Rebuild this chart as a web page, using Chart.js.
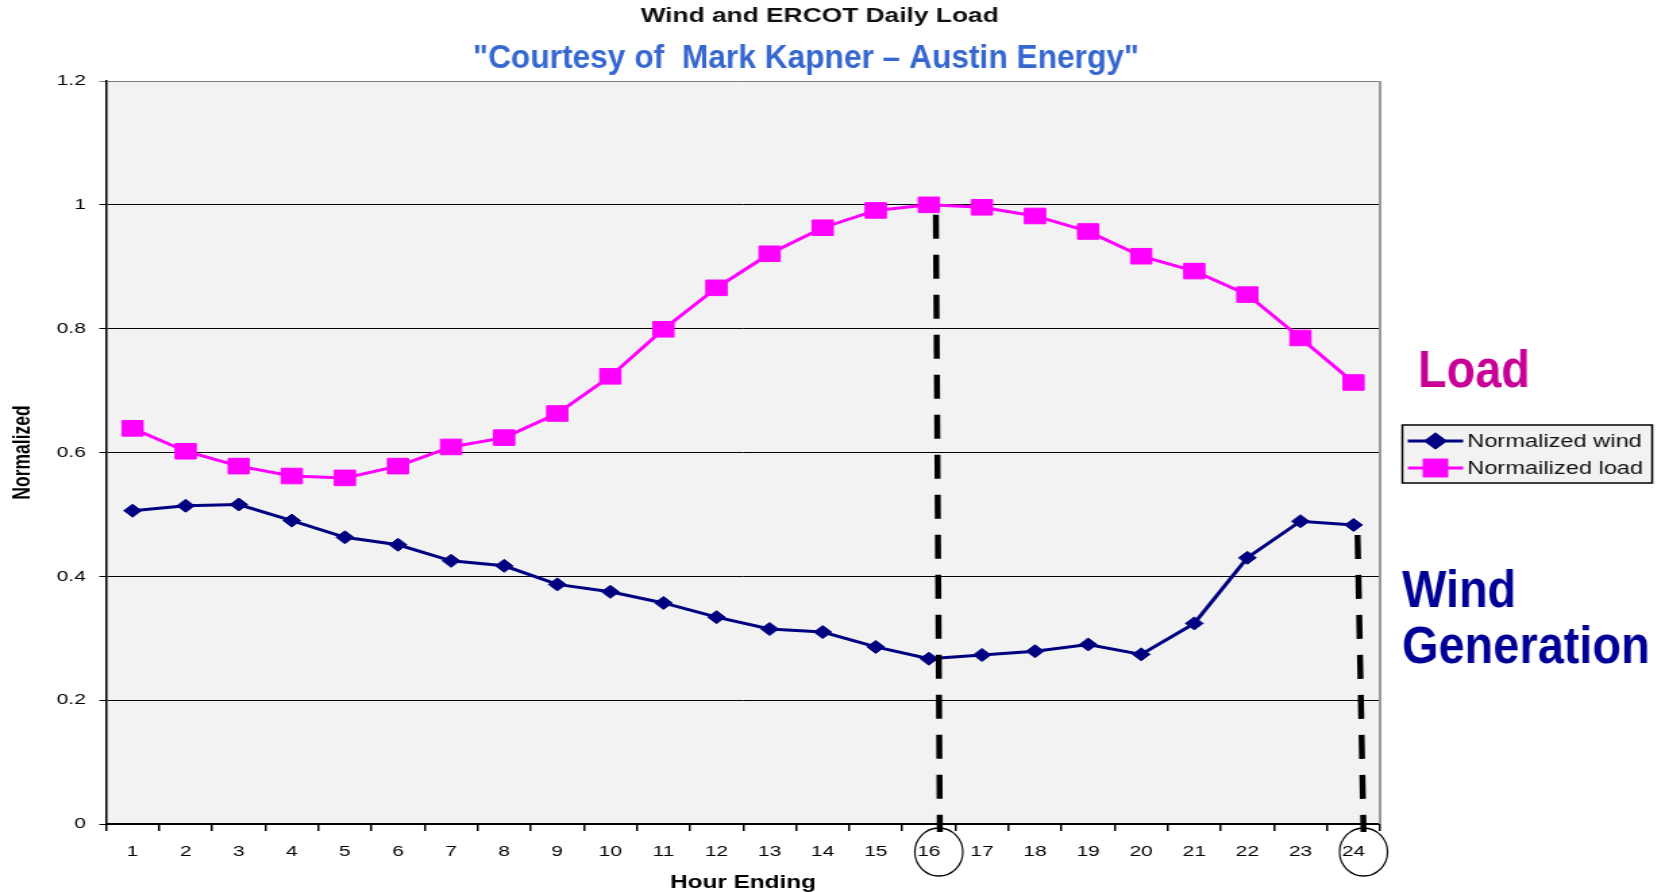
<!DOCTYPE html>
<html>
<head>
<meta charset="utf-8">
<script src="https://cdn.jsdelivr.net/npm/chart.js@4/dist/chart.umd.min.js"></script>
<style>
  html, body { margin: 0; padding: 0; background: #fff; overflow: hidden; }
  #stage { position: relative; width: 1665px; height: 892px; overflow: hidden; }
  /* the spreadsheet chart is drawn narrow and widened to the page */
  #c { position: absolute; left: 0; top: 0; transform: scaleX(1.350365); transform-origin: 0 0; }
</style>
</head>
<body>
<div id="stage"><canvas id="c" width="1233" height="892" style="width:1233px;height:892px"></canvas></div>
<script>
// Hour-ending categories
const hours = [1, 2, 3, 4, 5, 6, 7, 8, 9, 10, 11, 12, 13, 14, 15, 16, 17, 18, 19, 20, 21, 22, 23, 24];

// Normalized hourly wind output and ERCOT load
const windValues = [0.506, 0.514, 0.516, 0.490, 0.463, 0.451, 0.425, 0.417, 0.387, 0.375, 0.357, 0.334,
                    0.315, 0.310, 0.286, 0.267, 0.273, 0.279, 0.290, 0.274, 0.324, 0.430, 0.489, 0.483];
const loadValues = [0.639, 0.602, 0.578, 0.562, 0.559, 0.578, 0.609, 0.624, 0.663, 0.723, 0.799, 0.866,
                    0.921, 0.963, 0.991, 1.000, 0.996, 0.982, 0.957, 0.917, 0.893, 0.855, 0.785, 0.713];

// Value axis ticks
const yTickValues = [0, 0.2, 0.4, 0.6, 0.8, 1, 1.2];
const yTickLabels = ['0', '0.2', '0.4', '0.6', '0.8', '1', '1.2'];

const seriesNames = ['Normalized wind', 'Normailized load'];
const chartTitle = 'Wind and ERCOT Daily Load';
const creditLine = '"Courtesy of  Mark Kapner \u2013 Austin Energy"';
const xTitle = 'Hour Ending';
const yTitle = 'Normalized';
const loadTag = ['Load'];
const windTag = ['Wind', 'Generation'];
// hours called out: load peak hour and the late-evening wind hour
const markedHours = [16, 24];

const STRETCH = 1665 / 1233;
const FONT = '"Liberation Sans", Arial, Helvetica, sans-serif';

Chart.defaults.font.family = FONT;
Chart.defaults.color = '#000';

// plot-area fill and frame
const sheet = {
  id: 'sheet',
  beforeDraw(chart) {
    const { ctx, chartArea: a } = chart;
    ctx.save();
    ctx.fillStyle = '#f2f2f2';
    ctx.fillRect(a.left, a.top, a.right - a.left, a.bottom - a.top);
    ctx.restore();
  },
  afterDatasetsDraw(chart) {
    const { ctx, chartArea: a } = chart;
    ctx.save();
    ctx.strokeStyle = '#9a9a9a';
    ctx.lineWidth = 2;
    ctx.beginPath();
    ctx.moveTo(a.right, a.top);
    ctx.lineTo(a.right, a.bottom);
    ctx.stroke();
    ctx.restore();
  }
};

// chart heading and the boxed series key
const heading = {
  id: 'heading',
  afterDraw(chart) {
    const { ctx } = chart;
    ctx.save();
    ctx.fillStyle = '#111';
    ctx.font = 'bold 19.5px ' + FONT;
    ctx.textAlign = 'center';
    ctx.textBaseline = 'alphabetic';
    ctx.fillText(chartTitle, 607, 22);

    // key box
    const bx = 1038.5, by = 425, bw = 185, bh = 58;
    ctx.fillStyle = '#f2f2f2';
    ctx.fillRect(bx, by, bw, bh);
    ctx.strokeStyle = '#000';
    ctx.lineWidth = 1.5;
    ctx.strokeRect(bx, by, bw, bh);

    chart.data.datasets.forEach((ds, i) => {
      const y = by + 16 + i * 27;
      const x0 = bx + 4, x1 = bx + 45;
      ctx.strokeStyle = ds.borderColor;
      ctx.lineWidth = 3;
      ctx.beginPath();
      ctx.moveTo(x0, y);
      ctx.lineTo(x1, y);
      ctx.stroke();
      ctx.fillStyle = ds.borderColor;
      Chart.helpers.drawPoint(ctx, {
        pointStyle: ds.pointStyle, radius: ds.pointRadius, borderWidth: 1, rotation: 0
      }, (x0 + x1) / 2, y);
      ctx.fill();
      ctx.stroke();
      ctx.fillStyle = '#111';
      ctx.font = '17.5px ' + FONT;
      ctx.textAlign = 'left';
      ctx.textBaseline = 'middle';
      ctx.fillText(ds.label, bx + 48, y + 1);
    });
    ctx.restore();
  }
};

// slide call-outs: credit line, series tags, drop lines and circled hours
const callouts = {
  id: 'callouts',
  afterDraw(chart) {
    const { ctx } = chart;
    const xs = chart.scales.x, ys = chart.scales.y;
    const X = i => xs.getPixelForValue(i) * STRETCH;
    const Y = v => ys.getPixelForValue(v);
    ctx.save();
    ctx.scale(1 / STRETCH, 1);

    // credit line, set in a slightly condensed bold face
    ctx.save();
    ctx.font = 'bold 33px ' + FONT;
    const w = ctx.measureText(creditLine).width;
    const sx = Math.min(1, 666 / w);
    ctx.translate(806, 68);
    ctx.scale(sx, 1);
    ctx.fillStyle = '#3567cf';
    ctx.textAlign = 'center';
    ctx.textBaseline = 'alphabetic';
    ctx.fillText(creditLine, 0, 0);
    ctx.restore();

    const tag = (text, color, x, y) => {
      ctx.save();
      ctx.translate(x, y);
      ctx.scale(0.92, 1);
      ctx.fillStyle = color;
      ctx.font = 'bold 51px ' + FONT;
      ctx.textAlign = 'left';
      ctx.fillText(text, 0, 0);
      ctx.restore();
    };
    tag(loadTag[0], '#c80096', 1418, 387);
    tag(windTag[0], '#000096', 1402, 607);
    tag(windTag[1], '#000096', 1402, 663);

    const iPeak = hours.indexOf(markedHours[0]);
    const iLate = hours.indexOf(markedHours[1]);
    const drops = [
      { top: [X(iPeak) + 7, Y(loadValues[iPeak]) + 10], bottom: [X(iPeak) + 11, 832] },
      { top: [X(iLate) + 4, Y(windValues[iLate]) + 10], bottom: [X(iLate) + 10, 832] }
    ];
    ctx.strokeStyle = '#000';
    ctx.lineWidth = 6;
    ctx.lineCap = 'butt';
    ctx.setLineDash([24, 16]);
    drops.forEach(d => {
      ctx.beginPath();
      ctx.moveTo(d.top[0], d.top[1]);
      ctx.lineTo(d.bottom[0], d.bottom[1]);
      ctx.stroke();
    });
    ctx.setLineDash([]);

    ctx.lineWidth = 1.5;
    [iPeak, iLate].forEach(i => {
      ctx.beginPath();
      ctx.arc(X(i) + 10, 852, 24, 0, Math.PI * 2);
      ctx.stroke();
    });
    ctx.restore();
  }
};

new Chart(document.getElementById('c'), {
  type: 'line',
  data: {
    labels: hours.map(String),
    datasets: [
      {
        label: seriesNames[0],
        data: windValues,
        borderColor: '#000080',
        backgroundColor: '#000080',
        borderWidth: 3,
        pointStyle: 'rectRot',
        pointRadius: 6.5,
        pointBorderWidth: 1,
        tension: 0
      },
      {
        label: seriesNames[1],
        data: loadValues,
        borderColor: '#ff00ff',
        backgroundColor: '#ff00ff',
        borderWidth: 3,
        pointStyle: 'rect',
        pointRadius: 11,
        pointBorderWidth: 1,
        tension: 0
      }
    ]
  },
  options: {
    responsive: false,
    animation: false,
    devicePixelRatio: 1,
    layout: { padding: { left: 0, right: 211, top: 81, bottom: 0 } },
    plugins: {
      legend: { display: false },
      title: { display: false },
      tooltip: { enabled: false }
    },
    scales: {
      x: {
        type: 'category',
        offset: true,
        grid: {
          display: true, offset: true, drawOnChartArea: false, drawTicks: true,
          tickLength: 7, color: '#000', lineWidth: 1.5
        },
        border: { display: true, color: '#000', width: 2 },
        ticks: { color: '#000', font: { size: 15.5 }, padding: 11, maxRotation: 0, autoSkip: false },
        title: {
          display: true, text: xTitle, color: '#000',
          font: { size: 18, weight: 'bold' }, padding: { top: 0, bottom: -2 }
        },
        afterFit(s) { s.height = 68; }
      },
      y: {
        min: yTickValues[0],
        max: yTickValues[yTickValues.length - 1],
        afterBuildTicks(s) { s.ticks = yTickValues.map(v => ({ value: v })); },
        grid: {
          color: c => (c.tick && c.tick.value >= 1.2 - 1e-9) ? '#7a7a7a' : '#000',
          lineWidth: 1, tickLength: 5, drawTicks: true
        },
        border: { display: true, color: '#000', width: 1.5 },
        ticks: {
          color: '#000', font: { size: 15.5 }, padding: 10,
          callback: (v, i) => yTickLabels[i]
        },
        title: {
          display: true, text: yTitle, color: '#000',
          font: { size: 17.5, weight: 'bold' }, padding: { top: 7, bottom: 0 }
        },
        afterFit(s) { s.width = 78.5; }
      }
    }
  },
  plugins: [sheet, heading, callouts]
});
</script>
</body>
</html>
